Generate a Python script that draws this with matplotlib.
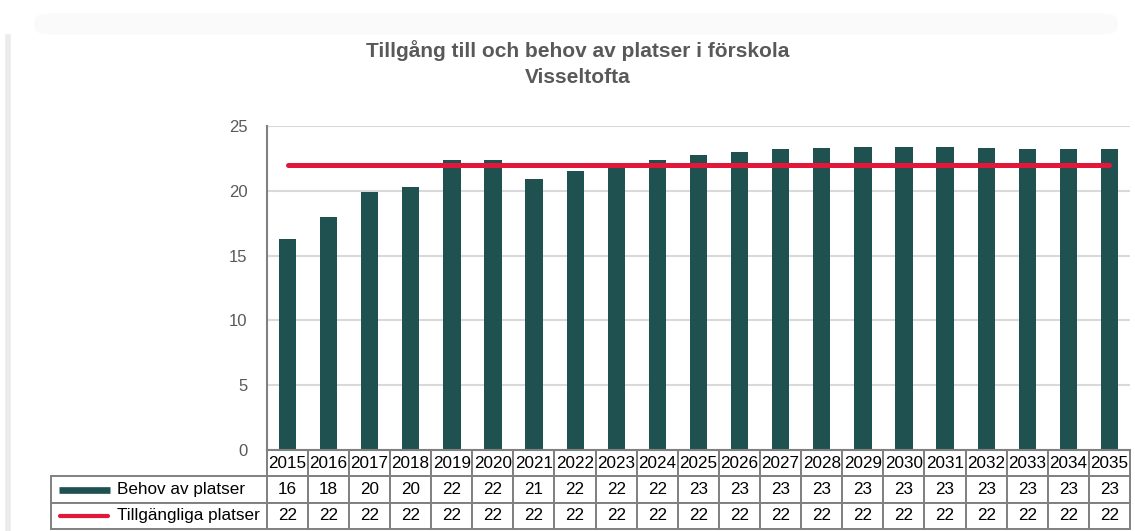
import matplotlib.pyplot as plt
from matplotlib.lines import Line2D
from matplotlib.patches import FancyBboxPatch
from matplotlib.table import Table

plt.rcParams['font.family'] = ['Liberation Sans', 'DejaVu Sans']

years = [str(y) for y in range(2015, 2036)]
behov = [16.3, 18.0, 19.9, 20.3, 22.4, 22.4, 20.9, 21.5, 22.1, 22.4, 22.8,
         23.0, 23.2, 23.3, 23.4, 23.4, 23.4, 23.3, 23.2, 23.2, 23.2]
tillgangliga = [22] * 21
series_names = ['Behov av platser', 'Tillgängliga platser']
title_lines = ['Tillgång till och behov av platser i förskola', 'Visseltofta']

BAR_COLOR = '#1f5150'
LINE_COLOR = '#e3173a'
GRID_COLOR = '#d9d9d9'
TEXT_GRAY = '#595959'
EDGE_GRAY = '#808080'


def build_table(ax, bbox):
    # column 0 holds the series names, columns 1.. the years
    table = Table(ax, bbox=bbox)
    col_w = 1.0
    label_w = 5.25
    row_h = 1.0

    for c, year in enumerate(years, start=1):
        table.add_cell(0, c, width=col_w, height=row_h, text=year, loc='center')

    rows = [behov, tillgangliga]
    for r, (name, values) in enumerate(zip(series_names, rows), start=1):
        label = table.add_cell(r, 0, width=label_w, height=row_h, text=name, loc='left')
        label.PAD = 0.306
        for c, v in enumerate(values, start=1):
            table.add_cell(r, c, width=col_w, height=row_h, text=f'{v:.0f}', loc='center')

    table.auto_set_font_size(False)
    table.set_fontsize(12.3)
    for cell in table.get_celld().values():
        cell.set_edgecolor(EDGE_GRAY)
        cell.set_linewidth(1.4)
    ax.add_table(table)
    return table


def run():
    fig = plt.figure(figsize=(11.35, 5.31), dpi=100)

    # soft frame around the chart area
    fig.add_artist(FancyBboxPatch((0.03, 0.935), 0.955, 0.04, boxstyle='round,pad=0,rounding_size=0.015',
                                  transform=fig.transFigure, facecolor='#fafafa',
                                  edgecolor='none', zorder=0))
    fig.add_artist(Line2D([0.007, 0.007], [0.0, 0.93], transform=fig.transFigure,
                          color='#ebebeb', linewidth=4))

    ax = fig.add_axes([0.2352, 0.1525, 0.7604, 0.6102])

    x = range(len(years))
    ax.bar(x, behov, width=0.42, color=BAR_COLOR, zorder=2)
    ax.plot(x, tillgangliga, color=LINE_COLOR, linewidth=3.6,
            solid_capstyle='round', zorder=3)

    ax.set_xlim(-0.5, len(years) - 0.5)
    ax.set_ylim(0, 25)
    ax.set_yticks(range(0, 26, 5))
    ax.set_xticks([])
    ax.tick_params(axis='y', length=0, pad=14, labelsize=12, labelcolor=TEXT_GRAY)
    ax.yaxis.grid(True, color=GRID_COLOR, linewidth=1.5, zorder=0)
    ax.set_axisbelow(True)

    for side in ['top', 'right']:
        ax.spines[side].set_visible(False)
    for side in ['left', 'bottom']:
        ax.spines[side].set_color(EDGE_GRAY)
        ax.spines[side].set_linewidth(1.5)

    # data table under the bars, row labels reaching left of the axes
    tb_x0, tb_w, tb_h = -0.2503, 1.2503, 0.2438
    build_table(ax, [tb_x0, -tb_h, tb_w, tb_h])

    # legend keys drawn inside the row label cells
    row_h = tb_h / 3
    y_bar_key = -row_h * 1.5
    y_line_key = -row_h * 2.5
    ax.add_line(Line2D([-0.241, -0.182], [y_bar_key, y_bar_key], transform=ax.transAxes,
                       color=BAR_COLOR, linewidth=4.8, solid_capstyle='butt',
                       clip_on=False, zorder=5))
    ax.add_line(Line2D([-0.240, -0.184], [y_line_key, y_line_key], transform=ax.transAxes,
                       color=LINE_COLOR, linewidth=3.0, solid_capstyle='round',
                       clip_on=False, zorder=5))

    for line, y in zip(title_lines, [0.892, 0.844]):
        fig.text(0.509, y, line, ha='center', va='baseline', fontsize=15,
                 fontweight='bold', color=TEXT_GRAY)

    fig.savefig('out.png', dpi=100)


run()
